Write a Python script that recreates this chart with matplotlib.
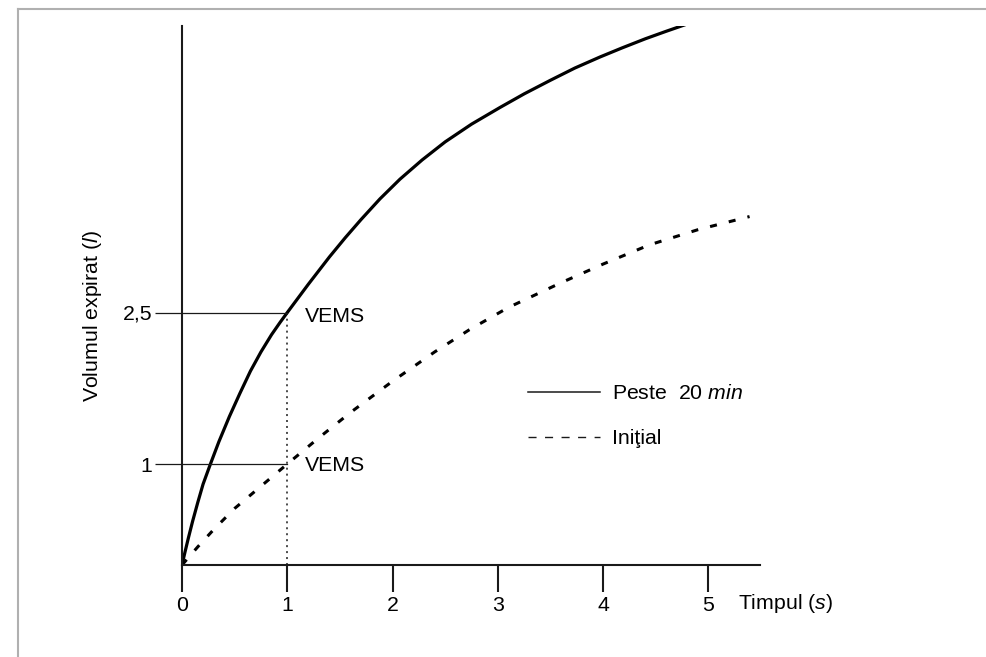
import matplotlib
matplotlib.use("Agg")
import matplotlib.pyplot as plt
from matplotlib.lines import Line2D

plt.rcParams['font.family'] = ['Liberation Sans', 'DejaVu Sans']
plt.rcParams['mathtext.fontset'] = 'custom'
plt.rcParams['mathtext.rm'] = 'Liberation Sans'
plt.rcParams['mathtext.it'] = 'Liberation Sans:italic'

# curves: time [s] vs expired volume [l]
t_after = [0, 0.03, 0.06, 0.1, 0.15, 0.2, 0.27, 0.35, 0.45, 0.55, 0.65, 0.75,
           0.85, 0.93, 1.0, 1.1, 1.2, 1.3, 1.4, 1.55, 1.7, 1.88, 2.07, 2.28,
           2.5, 2.75, 3.02, 3.25, 3.5, 3.73, 3.97, 4.18, 4.4, 4.6, 4.78]
v_after = [0, 0.135, 0.265, 0.43, 0.62, 0.80, 1.0, 1.22, 1.47, 1.70, 1.92,
           2.11, 2.28, 2.40, 2.5, 2.64, 2.78, 2.915, 3.05, 3.24, 3.42, 3.625,
           3.82, 4.01, 4.19, 4.365, 4.53, 4.665, 4.80, 4.92, 5.03, 5.12, 5.21,
           5.285, 5.35]

t_init = [0, 0.15, 0.3, 0.5, 0.75, 1.0, 1.3, 1.6, 2.0, 2.4, 2.73, 3.1,
          3.59, 4.0, 4.44, 4.9, 5.39]
v_init = [0, 0.18, 0.35, 0.56, 0.78, 1.0, 1.26, 1.51, 1.82, 2.11, 2.33, 2.55,
          2.79, 2.98, 3.17, 3.32, 3.45]

vems_t = 1.0
vems_after = 2.5
vems_init = 1.0

xticks = [0, 1, 2, 3, 4, 5]
yticks = [1, 2.5]
ytick_labels = ['1', '2,5']

FS = 15.3
INK = '#1a1a1a'

fig = plt.figure(figsize=(9.86, 6.57), dpi=100)
ax = fig.add_axes([182 / 986, 92 / 657, 578 / 986, 539 / 657])

ax.plot(t_after, v_after, color='black', lw=2.3, solid_capstyle='round',
        solid_joinstyle='round')
ax.plot(t_init, v_init, color='black', lw=2.2, dashes=(2.3, 4.0),
        dash_capstyle='butt')

# VEMS guides
for v in (vems_after, vems_init):
    ax.plot([0, vems_t], [v, v], color=INK, lw=0.9)
ax.plot([vems_t, vems_t], [0, vems_after], color=INK, lw=1.1, dashes=(1.3, 2.6))
ax.text(1.17, vems_after - 0.04, 'VEMS', fontsize=FS, va='center', ha='left')
ax.text(1.17, vems_init - 0.01, 'VEMS', fontsize=FS, va='center', ha='left')

ax.set_xlim(0, 578 / 105.3)
ax.set_ylim(0, 539 / 101)

for s in ('top', 'right'):
    ax.spines[s].set_visible(False)
for s in ('left', 'bottom'):
    ax.spines[s].set_linewidth(1.5)
    ax.spines[s].set_color(INK)

ax.set_xticks(xticks)
ax.set_xticklabels([str(x) for x in xticks])
ax.tick_params(axis='x', direction='out', length=19.5, width=1.5, color=INK,
               pad=3.0, labelsize=FS)
ax.set_yticks(yticks)
ax.set_yticklabels(ytick_labels)
ax.tick_params(axis='y', direction='out', length=19.5, width=0.9, color=INK,
               pad=2, labelsize=FS)

ax.set_xlabel('Timpul ($\\mathit{s}$)', fontsize=FS, ha='left', va='center')
ax.xaxis.set_label_coords(0.962, -0.072)
ax.set_ylabel('Volumul expirat ($\\mathit{l}$)', fontsize=FS, va='center')
ax.yaxis.set_label_coords(-0.154, 0.462)

handles = [Line2D([], [], color=INK, lw=1.1),
           Line2D([], [], color=INK, lw=1.0, dashes=(5.8, 6.1))]
ax.legend(handles, ['Peste  20 $\\mathit{min}$', 'Iniţial'], frameon=False,
          loc='center left', bbox_to_anchor=(0.599, 0.276), borderaxespad=0,
          borderpad=0, handlelength=3.4, handletextpad=0.56, labelspacing=1.2,
          fontsize=FS)

# gray frame at top and left of the picture
fig.add_artist(Line2D([18 / 986, 1], [1 - 9 / 657, 1 - 9 / 657],
                      transform=fig.transFigure, color='#b0b0b0', lw=1.5))
fig.add_artist(Line2D([18 / 986, 18 / 986], [0, 1 - 9 / 657],
                      transform=fig.transFigure, color='#b0b0b0', lw=1.5))

fig.savefig('out.png', dpi=100)
